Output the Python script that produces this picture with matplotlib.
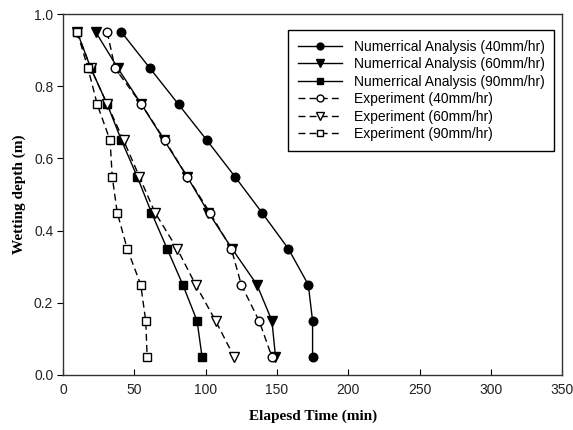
import matplotlib
matplotlib.use("Agg")
import matplotlib.pyplot as plt

# wetting depth (m) at each measuring point
depth = [0.95, 0.85, 0.75, 0.65, 0.55, 0.45, 0.35, 0.25, 0.15, 0.05]

# elapsed time (min) to reach each depth
num_40 = [41, 61, 81, 101, 120.5, 139.5, 158, 172, 175, 175]
num_60 = [23, 38.5, 55, 71, 87, 102, 118.5, 136, 146.5, 149]
num_90 = [10, 19.5, 31, 41, 52, 62, 73, 84, 94, 97.5]
exp_40 = [31, 36.5, 55, 71.5, 87, 103, 118, 125, 137.5, 146.5]
exp_60 = [10, 19.5, 31, 42.5, 53.5, 64.5, 80, 93, 107, 120]
exp_90 = [10, 17.5, 24, 33, 34.5, 38, 45, 54.5, 58, 59]

labels = ["Numerrical Analysis (40mm/hr)", "Numerrical Analysis (60mm/hr)",
          "Numerrical Analysis (90mm/hr)", "Experiment (40mm/hr)",
          "Experiment (60mm/hr)", "Experiment (90mm/hr)"]

fig = plt.figure(figsize=(5.73, 4.30), dpi=100)
ax = fig.add_axes([0.110, 0.128, 0.871, 0.839])

sans = "Liberation Sans"
serif = "Liberation Serif"
ms = 6.2
dash = (0, (5, 3))

ax.plot(num_40, depth, color="black", lw=1, marker="o", ms=ms, label=labels[0])
ax.plot(num_60, depth, color="black", lw=1, marker="v", ms=ms + 0.5, label=labels[1])
ax.plot(num_90, depth, color="black", lw=1, marker="s", ms=ms, label=labels[2])
ax.plot(exp_40, depth, color="black", lw=1, ls=dash, marker="o", ms=ms,
        mfc="white", label=labels[3])
ax.plot(exp_60, depth, color="black", lw=1, ls=dash, marker="v", ms=ms + 0.5,
        mfc="white", label=labels[4])
ax.plot(exp_90, depth, color="black", lw=1, ls=dash, marker="s", ms=ms,
        mfc="white", label=labels[5])

ax.set_xlim(0, 350)
ax.set_ylim(0, 1.0)
ax.set_xticks(range(0, 351, 50))
ax.set_yticks([0.0, 0.2, 0.4, 0.6, 0.8, 1.0])
ax.set_yticklabels(["0.0", "0.2", "0.4", "0.6", "0.8", "1.0"])
ax.tick_params(axis="x", direction="in", length=4, width=0.8, pad=6)
ax.tick_params(axis="y", direction="out", length=4, width=0.8, pad=3)
for lab in ax.get_xticklabels() + ax.get_yticklabels():
    lab.set_fontfamily(sans)
    lab.set_fontsize(10)
    lab.set_color("#222222")
for s in ax.spines.values():
    s.set_linewidth(1)
    s.set_color("#333333")

ax.set_xlabel("Elapesd Time (min)", fontfamily=serif, fontweight="bold",
              fontsize=11, labelpad=9)
ax.set_ylabel("Wetting depth (m)", fontfamily=serif, fontweight="bold",
              fontsize=11, labelpad=6)

leg = ax.legend(loc="upper right", bbox_to_anchor=(0.998, 0.975),
                prop={"family": sans, "size": 10}, fancybox=False,
                edgecolor="black", framealpha=1, handlelength=3.2,
                labelspacing=0.25, borderpad=0.7, handletextpad=0.8,
                markerscale=0.8)
leg.get_frame().set_linewidth(1)

fig.savefig("out.png", dpi=100)
